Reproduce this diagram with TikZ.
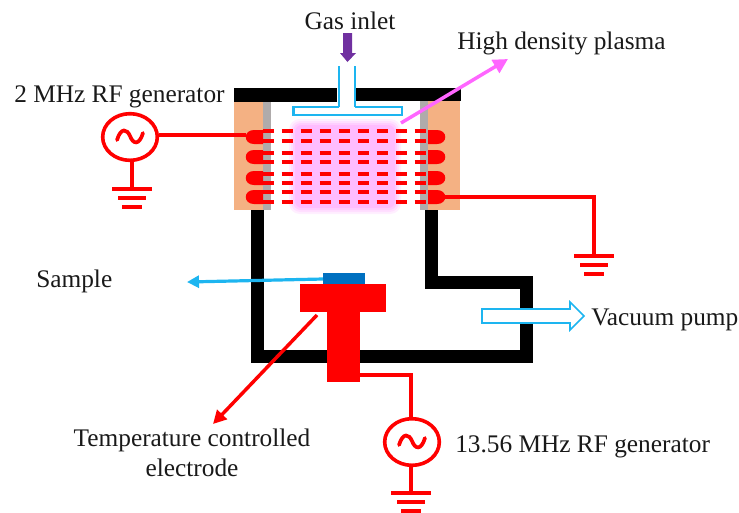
\documentclass[tikz,border=0pt]{standalone}
\usepackage{fontspec}
\setmainfont{Liberation Serif}
\usetikzlibrary{arrows.meta,calc,shapes.geometric}
\definecolor{wirered}{HTML}{FF0000}
\definecolor{coilorange}{HTML}{F4B183}
\definecolor{wallgray}{HTML}{AFABAB}
\definecolor{gascyan}{HTML}{1DB5F0}
\definecolor{samplecol}{HTML}{0070C0}
\definecolor{pinkline}{HTML}{FF66FF}
\definecolor{gaspurple}{HTML}{7030A0}
\tikzset{
  x=0.75pt,y=-0.75pt,
  label text/.style={font=\fontsize{19pt}{22pt}\selectfont,inner sep=0pt,text=black!90},
  wire/.style={draw=wirered,line width=2.7pt,line join=miter},
  gnd/.style={draw=wirered,line width=3pt},
  generator/.style={ellipse,draw=wirered,line width=2.7pt,fill=white,minimum width=41pt,minimum height=35pt,inner sep=0pt},
  tildeline/.style={draw=wirered,line width=2.8pt,line cap=round},
  wall/.style={fill=black},
  rfline/.style={draw=wirered,line width=2.3pt,dash pattern=on 8.25pt off 6pt},
  coil/.style={fill=wirered},
  headline/.style={draw=gascyan,line width=1.6pt},
}
\newcommand{\groundat}[1]{%
  \draw[gnd] ($(#1)+(-20,0)$) -- ($(#1)+(20,0)$);
  \draw[gnd] ($(#1)+(-14,9)$) -- ($(#1)+(14,9)$);
  \draw[gnd] ($(#1)+(-10,18)$) -- ($(#1)+(10,18)$);}
\newcommand{\tildeat}[1]{%
  \draw[tildeline] ($(#1)+(-13,3)$) .. controls ($(#1)+(-9,-10)$) and ($(#1)+(-3,-8)$) .. ($(#1)+(0,-1)$)
     .. controls ($(#1)+(3,7)$) and ($(#1)+(9,9)$) .. ($(#1)+(13,-4)$);}
\newcommand{\coilL}[1]{%
  \fill[coil] (263,#1-7) -- (254,#1-7) .. controls (243,#1-7) and (243,#1+7) .. (254,#1+7) -- (263,#1+7) -- cycle;}
\newcommand{\coilR}[1]{%
  \fill[coil] (428,#1-7) -- (437,#1-7) .. controls (448,#1-7) and (448,#1+7) .. (437,#1+7) -- (428,#1+7) -- cycle;}
\begin{document}
\begin{tikzpicture}
\useasboundingbox (0,0) rectangle (739,512);
% coordinates
\coordinate (pinkStart) at (401,123);
\coordinate (pinkEnd) at (508,59);
\coordinate (sampleArrowEnd) at (187,282);
\coordinate (electrodeArrowStart) at (317,315);
\coordinate (electrodeArrowEnd) at (213,424);
\coordinate (stemWire) at (360,375);
\coordinate (coilWireL) at (246,135);
\coordinate (coilWireR) at (443,197);
\coordinate (gndA) at (132,189);
\coordinate (gndB) at (594,256);
\coordinate (gndC) at (411,493);
% chamber walls
\fill[wall] (251,208) rectangle (263.5,363);
\fill[wall] (251,350) rectangle (533,363);
\fill[wall] (520,276) rectangle (533,363);
\fill[wall] (425,276) rectangle (533,289);
\fill[wall] (425,208) rectangle (438,289);
% coil blocks
\fill[coilorange] (233.5,101) rectangle (263,210);
\fill[wallgray] (263,101) rectangle (270.5,210);
\fill[wallgray] (420,101) rectangle (428,210);
\fill[coilorange] (428,101) rectangle (460,210);
% top lid
\fill[wall] (234,88) rectangle (337,102);
\fill[wall] (355,88) rectangle (461,101);
% plasma glow
\fill[fill=pinkline,fill opacity=0.10,rounded corners=8] (289,119) rectangle (401,214);
\fill[fill=pinkline,fill opacity=0.12,rounded corners=7] (291,121) rectangle (399,212);
\fill[fill=pinkline,fill opacity=0.15,rounded corners=6] (293,123) rectangle (397,210);
\fill[fill=pinkline,fill opacity=0.16,rounded corners=5] (295,125) rectangle (395,208);
% shower head
\draw[headline,fill=white] (339,107) -- (293.5,107) -- (293.5,115) -- (402,115) -- (402,107) -- (355,107);
\fill[white] (339.8,104) rectangle (354.2,112);
\draw[headline] (339,66) -- (339,107);
\draw[headline] (355,66) -- (355,107);
% RF field lines
\foreach \yy in {131,141,153,162,174,183,192,202}
  \draw[rfline] (262.5,\yy) -- (426,\yy);
% coils
\foreach \yy in {137,157,178,197} {\coilL{\yy}\coilR{\yy}}
% electrode
\fill[wirered] (300,284) rectangle (386,312);
\fill[wirered] (327,312) rectangle (360,382);
\fill[samplecol] (323,273) rectangle (365,284);
% generators
\node[generator] (genA) at (130,137) {};
\node[generator] (genB) at (412,442) {};
\tildeat{genA}
\tildeat{genB}
% wires
\draw[wire] (genA.east |- 0,135) -- (coilWireL);
\draw[wire] (gndA |- genA.south) -- (gndA);
\draw[wire] (coilWireR) -- (gndB |- coilWireR) -- (gndB);
\draw[wire] (stemWire) -- (gndC |- stemWire) -- (gndC |- genB.north);
\draw[wire] (gndC |- genB.south) -- (gndC);
\groundat{gndA}
\groundat{gndB}
\groundat{gndC}
% arrows
\fill[gaspurple] (343,33) -- (352,33) -- (352,53) -- (356,53) -- (347.5,62) -- (340,53) -- (343,53) -- cycle;
\draw[draw=pinkline,line width=2.6pt,-{Triangle[length=11pt,width=11pt]}] (pinkStart) -- (pinkEnd);
\draw[draw=gascyan,line width=2.4pt,-{Triangle[length=9pt,width=9pt]}] (323,279) -- (sampleArrowEnd);
\draw[draw=wirered,line width=2.6pt,-{Triangle[length=10pt,width=10pt]}] (electrodeArrowStart) -- (electrodeArrowEnd);
\draw[draw=gascyan,line width=1.2pt,fill=white,line join=miter] (482,309) -- (570,309) -- (570,302) -- (584,316) -- (570,330) -- (570,323) -- (482,323) -- cycle;
% labels
\node[label text] (lGas) at (350,21) {Gas inlet};
\node[label text,anchor=base west] (lPlasma) at (457,49) {High density plasma};
\node[label text,anchor=base west] (lRfA) at (14,102) {2 MHz RF generator};
\node[label text,anchor=base west] (lSample) at (36,287) {Sample};
\node[label text,anchor=base west] (lVac) at (591,325) {Vacuum pump};
\node[label text] (lTempA) at (192,440) {Temperature controlled};
\node[label text] (lTempB) at (192,468) {electrode};
\node[label text,anchor=base west] (lRfB) at (455,452) {13.56 MHz RF generator};
\end{tikzpicture}
\end{document}
